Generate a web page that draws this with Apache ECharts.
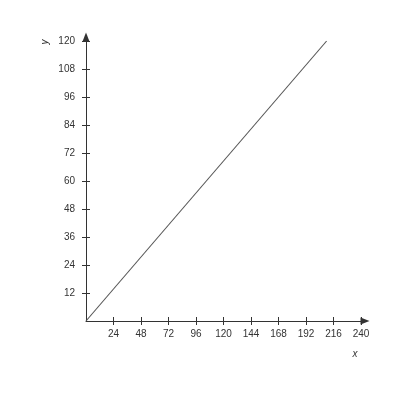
<!DOCTYPE html>
<html>
<head>
<meta charset="utf-8">
<script src="https://cdn.jsdelivr.net/npm/echarts@6/dist/echarts.min.js"></script>
<style>html,body{margin:0;padding:0;background:#fff;}#c{width:400px;height:400px;}</style>
</head>
<body>
<div id="c"></div>
<script>
var xValues = [0, 210];
var yValues = [0, 120];
var xTicks = [24, 48, 72, 96, 120, 144, 168, 192, 216, 240];
var yTicks = [12, 24, 36, 48, 60, 72, 84, 96, 108, 120];
var xName = 'x';
var yName = 'y';

var pts = xValues.map(function (v, i) { return [v, yValues[i]]; });
var axisColor = '#333';
var font = 'Liberation Sans, Arial, sans-serif';

function mainAxis(max, interval, ticks, isX) {
  return {
    type: 'value', min: 0, max: max, interval: interval,
    position: isX ? 'bottom' : 'left',
    axisLine: { show: true, onZero: false, symbol: ['none', 'triangle'], symbolSize: [7, 9], symbolOffset: [0, 4],
      lineStyle: { color: axisColor, width: 1 } },
    axisTick: { show: true, inside: false, length: 4, customValues: ticks, lineStyle: { color: axisColor, width: 1 } },
    axisLabel: { show: true, customValues: ticks, color: '#333', fontSize: 10, fontFamily: font, margin: isX ? 8 : 11 },
    splitLine: { show: false }
  };
}
function ghostAxis(max, interval, ticks, isX) {
  return {
    type: 'value', min: 0, max: max, interval: interval,
    position: isX ? 'bottom' : 'left',
    axisLine: { show: false },
    axisTick: { show: true, inside: true, length: 4, customValues: ticks, lineStyle: { color: axisColor, width: 1 } },
    axisLabel: { show: false },
    splitLine: { show: false }
  };
}

var chart = echarts.init(document.getElementById('c'), null, { renderer: 'canvas' });
chart.setOption({
  animation: false,
  backgroundColor: '#fff',
  grid: { left: 86, right: 39, top: 41, bottom: 79, containLabel: false },
  xAxis: [mainAxis(240, 24, xTicks, true), ghostAxis(240, 24, xTicks, true)],
  yAxis: [mainAxis(120, 12, yTicks, false), ghostAxis(120, 12, yTicks, false)],
  graphic: [
    { type: 'text', x: 355, y: 354, style: { text: xName, fontSize: 10, fontStyle: 'italic', fontFamily: font, fill: '#333', align: 'center', verticalAlign: 'middle' } },
    { type: 'text', x: 45, y: 42, rotation: Math.PI / 2, style: { text: yName, fontSize: 10, fontStyle: 'italic', fontFamily: font, fill: '#333', align: 'center', verticalAlign: 'middle' } }
  ],
  series: [{
    type: 'line', xAxisIndex: 0, yAxisIndex: 0, data: pts,
    showSymbol: false, symbol: 'none',
    lineStyle: { color: '#555', width: 1.1 }
  }]
});
</script>
</body>
</html>
